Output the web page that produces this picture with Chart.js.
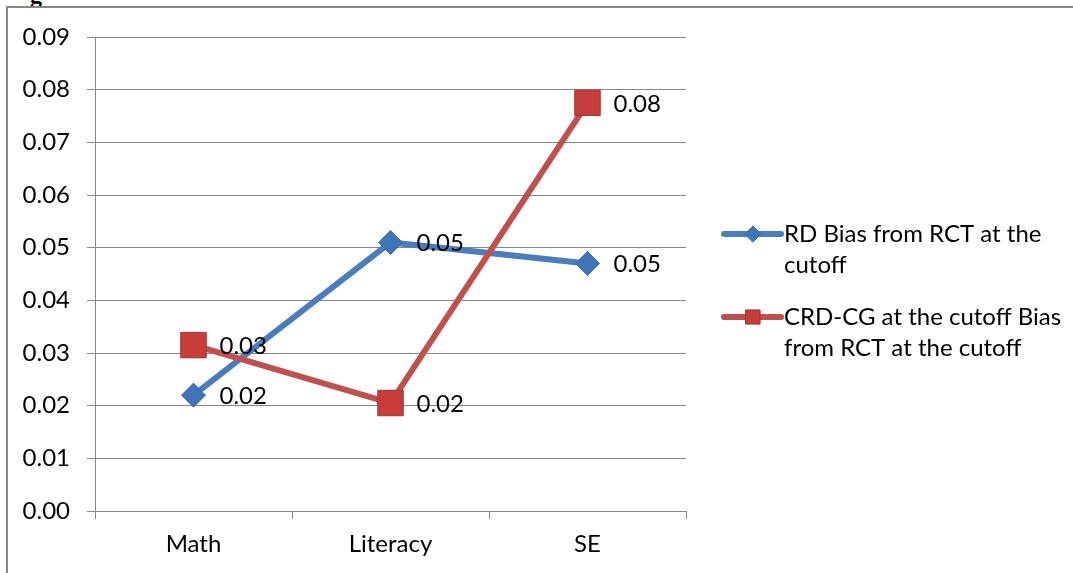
<!DOCTYPE html>
<html>
<head>
<meta charset="utf-8">
<script src="https://cdn.jsdelivr.net/npm/chart.js@4/dist/chart.umd.min.js"></script>
<style>
body{margin:0;background:#fff;overflow:hidden}
#wrap{position:relative;width:1073px;height:573px}
#moldura{position:absolute;left:6px;top:6px;width:1100px;height:600px;border-left:2px solid #878787;border-top:2px solid #878787}
#titulo{position:absolute;left:30px;top:-18px;font:bold 24px 'Liberation Serif',serif;color:#000}
canvas{position:absolute;left:0;top:0}
</style>
</head>
<body>
<div id="wrap">
<div id="titulo">g</div>
<div id="moldura"></div>
<canvas id="grafico" width="1073" height="573"></canvas>
</div>
<script>

let categorias=['Math','Literacy','SE']

let serieRD=[0.022,0.051,0.047]
let serieCRD=[0.0315,0.0205,0.0775]

let nomesSeries=[
['RD Bias from RCT at the','cutoff'],
['CRD-CG at the cutoff Bias','from RCT at the cutoff']
]

let ticksY=[0,0.01,0.02,0.03,0.04,0.05,0.06,0.07,0.08,0.09]

let cinza='#878787'
let azul='#4a7ebb'
let vermelho='#c0504d'

let fonte='24px Lato'

Chart.defaults.font.family='Lato'
Chart.defaults.font.size=24
Chart.defaults.color='#000'

// rotulos de valor ao lado de cada ponto
let rotulos={
id:'rotulos',
afterDatasetsDraw(chart){
let ctx=chart.ctx
ctx.save()
ctx.font=fonte
ctx.fillStyle='#000'
ctx.textAlign='left'
ctx.textBaseline='middle'
chart.data.datasets.forEach((d,i)=>{
let meta=chart.getDatasetMeta(i)
meta.data.forEach((p,j)=>{
ctx.fillText(Number(d.data[j]).toFixed(2),p.x+26,p.y+1)
})
})
ctx.restore()
}
}

// legenda a direita, com quebra de linha
let legenda={
id:'legenda',
afterDraw(chart){
let ctx=chart.ctx
let area=chart.chartArea
let x0=area.right+38
let y=234
ctx.save()
chart.data.datasets.forEach((d,i)=>{
ctx.strokeStyle=d.borderColor
ctx.lineWidth=6
ctx.lineCap='round'
ctx.beginPath()
ctx.moveTo(x0,y)
ctx.lineTo(x0+57,y)
ctx.stroke()
ctx.fillStyle=d.pointBackgroundColor
ctx.strokeStyle=d.pointBorderColor
ctx.lineWidth=1
Chart.helpers.drawPoint(ctx,{
pointStyle:d.pointStyle,
radius:d.pointStyle==='rect'?10:8,
borderWidth:1
},x0+29,y)
ctx.fillStyle='#000'
ctx.font=fonte
ctx.textAlign='left'
ctx.textBaseline='middle'
nomesSeries[i].forEach((linha,k)=>{
ctx.fillText(linha,x0+60,y+k*31)
})
y+=83
})
ctx.restore()
}
}

new Chart(document.getElementById('grafico'),{
type:'line',
data:{
labels:categorias,
datasets:[
{
label:nomesSeries[0].join(' '),
data:serieRD,
borderColor:azul,
borderWidth:6,
pointStyle:'rectRot',
pointRadius:12,
pointHoverRadius:12,
pointBackgroundColor:'#3f74b8',
pointBorderColor:'#3a6aa8',
pointBorderWidth:1,
order:1
},
{
label:nomesSeries[1].join(' '),
data:serieCRD,
borderColor:vermelho,
borderWidth:6,
pointStyle:'rect',
pointRadius:18,
pointHoverRadius:18,
pointBackgroundColor:'#c63d3a',
pointBorderColor:'#a33331',
pointBorderWidth:1,
order:0
}
]
},
options:{
responsive:false,
animation:false,
layout:{
padding:{left:0,top:37,right:387,bottom:0}
},
plugins:{
legend:{display:false},
tooltip:{enabled:false}
},
scales:{
x:{
offset:true,
grid:{
offset:true,
drawOnChartArea:false,
tickLength:8,
color:cinza
},
border:{color:cinza,width:1},
ticks:{padding:11,color:'#000'},
afterFit(s){s.height=62}
},
y:{
min:0,
max:0.09,
afterBuildTicks(s){
s.ticks=ticksY.map(v=>({value:v}))
},
grid:{
tickLength:8,
color:cinza
},
border:{color:cinza,width:1},
ticks:{
padding:17,
color:'#000',
callback:v=>Number(v).toFixed(2)
},
afterFit(s){s.width=95}
}
}
},
plugins:[rotulos,legenda]
})

</script>
</body>
</html>
